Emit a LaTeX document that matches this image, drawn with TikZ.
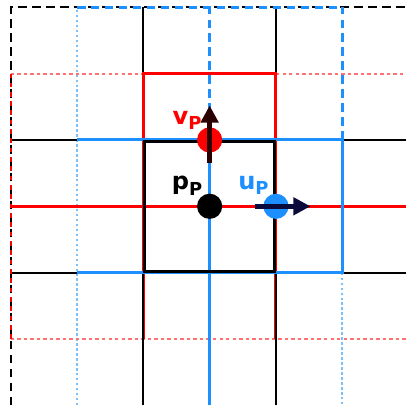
\documentclass[tikz,border=0pt]{standalone}
\usepackage{fontspec}
\setsansfont{DejaVu Sans}
\usepackage{tikz}
\usetikzlibrary{arrows.meta, positioning, calc}
\usepackage{xcolor}
\definecolor{gridblack}{HTML}{000000}
\definecolor{vred}{HTML}{ff0000}
\definecolor{vredlight}{HTML}{ff7070}
\definecolor{ublue}{HTML}{1e8fff}
\definecolor{ubluelight}{HTML}{7cc0fa}
\definecolor{varrowcol}{HTML}{2b0000}
\definecolor{uarrowcol}{HTML}{0a0a3c}
\newcommand{\gridlab}[2]{{\fontsize{15.5}{18}\selectfont #1\raisebox{-0.4ex}{\fontsize{11.5}{13}\selectfont #2}}}
\tikzset{
  pline/.style={draw=gridblack, line width=1.4pt},
  pdash/.style={draw=gridblack, line width=1.4pt, dash pattern=on 5.5pt off 3.5pt},
  pcell/.style={draw=gridblack, line width=2pt},
  vline/.style={draw=vred, line width=1.9pt},
  vdash/.style={draw=vred, line width=1.4pt, dash pattern=on 3pt off 3pt},
  vfaint/.style={draw=vredlight, line width=1.3pt, dash pattern=on 2.2pt off 2pt},
  uline/.style={draw=ublue, line width=1.9pt},
  udash/.style={draw=ublue, line width=1.6pt, dash pattern=on 5.5pt off 3.5pt},
  ufaint/.style={draw=ubluelight, line width=1.5pt, dash pattern=on 1.6pt off 1.6pt},
  unkn/.style={circle, inner sep=0pt, minimum size=0.57cm},
  varrow/.style={-{Triangle[length=11pt,width=11pt]}, line width=3pt, draw=varrowcol},
  uarrow/.style={-{Triangle[length=11pt,width=11pt]}, line width=3pt, draw=uarrowcol},
  lab/.style={font=\sffamily\bfseries, inner sep=0pt},
}
\begin{document}
\begin{tikzpicture}[x=3cm, y=3cm]
  \useasboundingbox (-1.58,-1.5) rectangle (1.48,1.555);

  % faint outer lines
  \draw[ufaint] (-1,-1.5) -- (-1,1.5);
  \draw[ufaint] (1,-0.5) -- (1,-1.5);
  \draw[vfaint] (-1.5,1) -- (-0.5,1);
  \draw[vfaint] (0.5,1) -- (1.48,1);
  \draw[vfaint] (-1.5,-1) -- (1.48,-1);

  % pressure grid
  \draw[pdash] (-1.5,-1.5) -- (-1.5,1.5) -- (1.48,1.5);
  \draw[pline] (-0.5,-1.5) -- (-0.5,1.5);
  \draw[pline] (0.5,-1.5) -- (0.5,1.5);
  \draw[pline] (-1.5,0.5) -- (1.48,0.5);
  \draw[pline] (-1.5,-0.5) -- (1.48,-0.5);

  % v grid
  \draw[vdash] (-1.5,-1) -- (-1.5,1);
  \draw[vline] (-0.5,-1) -- (-0.5,1) -- (0.5,1) -- (0.5,-1);
  \draw[vline] (-1.5,0) -- (1.48,0);
  \draw[pline] (-0.5,-0.5) -- (-0.5,-1);
  \draw[pline] (0.5,-0.5) -- (0.5,-1);

  % u grid
  \draw[udash] (-1,1.5) -- (1,1.5);
  \draw[udash] (0,0.5) -- (0,1.5);
  \draw[udash] (1,0.5) -- (1,1.5);
  \draw[uline] (-1,0.5) -- (1,0.5) -- (1,-0.5) -- (-1,-0.5);
  \draw[uline] (0,0.5) -- (0,-1.5);

  % centre cell
  \draw[pcell] (-0.49,-0.49) rectangle (0.49,0.49);

  % unknowns
  \node[unkn, fill=black] (pP) at (0,0) {};
  \node[unkn, fill=vred] (vP) at (0,0.5) {};
  \node[unkn, fill=ublue] (uP) at (0.5,0) {};

  \coordinate (vtail) at (0,0.33);
  \coordinate (vtip) at (0,0.76);
  \coordinate (utail) at (0.34,0);
  \coordinate (utip) at (0.76,0);
  \draw[varrow] (vtail) -- (vtip);
  \draw[uarrow] (utail) -- (utip);

  \node[lab, text=vred] (vlab) at (-0.17,0.65) {\gridlab{v}{P}};
  \node[lab, text=black] (plab) at (-0.17,0.155) {\gridlab{p}{P}};
  \node[lab, text=ublue] (ulab) at (0.33,0.155) {\gridlab{u}{P}};
\end{tikzpicture}
\end{document}
